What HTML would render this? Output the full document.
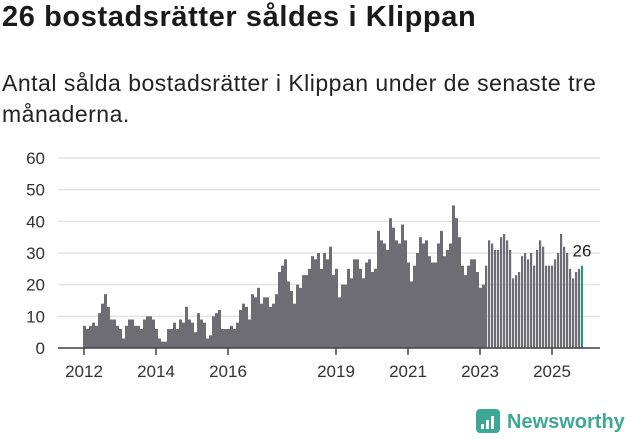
<!DOCTYPE html>
<html><head><meta charset="utf-8"><style>
body{margin:0;width:631px;height:439px;background:#fff;font-family:"Liberation Sans","DejaVu Sans",sans-serif;overflow:hidden;position:relative}
h1{position:absolute;left:2px;top:1px;margin:0;font-size:29px;font-weight:bold;color:#1a1a1a;letter-spacing:0.6px}
p{position:absolute;left:2px;top:68px;margin:0;font-size:23px;line-height:31px;color:#222;width:625px;letter-spacing:0.5px}
svg{position:absolute;left:0;top:0}
</style></head><body>
<h1>26 bostadsrätter såldes i Klippan</h1>
<p>Antal sålda bostadsrätter i Klippan under de senaste tre månaderna.</p>
<svg id="c" width="631" height="439"></svg>
<script>
const values=[7,6,7,8,7,11,14,17,13,9,9,7,6,3,7,9,9,7,7,6,9,10,10,9,6,3,2,2,6,6,8,6,9,8,13,9,8,5,11,9,8,3,4,10,11,12,6,6,6,7,6,8,12,14,13,9,
17,16,19,14,16,16,13,14,17,24,26,28,21,18,14,20,19,23,23,25,29,28,30,25,30,28,32,23,25,16,20,20,25,22,28,28,25,22,27,28,24,25,37,34,33,31,41,38,34,33,39,34,27,21,26,30,
35,33,34,29,27,27,33,37,29,31,33,45,41,35,26,23,26,28,28,24,19,20,26,34,33,31,31,35,36,34,31,22,23,24,29,30,28,30,26,31,34,32,26,26,26,28,30,36,32,30,25,22,24,25,26];
const yTicks=[0,10,20,30,40,50,60];
const xTickLabels=["2012","2014","2016","2019","2021","2023","2025"];
const xTickMonths=[0,24,48,84,108,132,156];
const NS="http://www.w3.org/2000/svg";
const svg=document.getElementById('c');
const y=v=>348-v*(190/60);
const x=i=>83+i*3;
function mk(t,a){const e=document.createElementNS(NS,t);for(const k in a)e.setAttribute(k,a[k]);svg.appendChild(e);return e;}
yTicks.forEach(v=>{
 const l=mk('line',{x1:58,x2:600,y1:y(v),y2:y(v),stroke:'#e3e3e3','stroke-width':1.5});
 
 
 const t=mk('text',{x:45,y:y(v)+6,'text-anchor':'end','font-size':17,fill:'#333'});
 t.textContent=v;
 
 
});
values.forEach((v,i)=>{
 const last=i===values.length-1;
 const r=mk('rect',{x:x(i),y:y(v),width:last?2:(i<134?3:2.2),height:348-y(v),fill:last?'#1a9c8c':'#6e6d73'});
 
 
});
const ax=mk('line',{x1:58,x2:600,y1:348,y2:348,stroke:'#444','stroke-width':1.5});


xTickMonths.forEach((m,j)=>{
 const tk=mk('line',{x1:x(m)+1,x2:x(m)+1,y1:348,y2:355,stroke:'#444','stroke-width':1.5});
 
 
 const t=mk('text',{x:x(m)+1,y:377,'text-anchor':'middle','font-size':17,fill:'#333'});
 t.textContent=xTickLabels[j];
 
 
});
const li=values.length-1;
const lab=mk('text',{x:x(li)+1,y:y(values[li])-9,'text-anchor':'middle','font-size':17,fill:'#222'});
lab.textContent=values[li];


const g=mk('g',{});


const b=document.createElementNS(NS,'rect');
b.setAttribute('x',476);b.setAttribute('y',409);b.setAttribute('width',24);b.setAttribute('height',24);b.setAttribute('rx',4);b.setAttribute('fill','#3fa796');
g.appendChild(b);
[[481,424,3,5],[486,420,3,9],[491,416,3,13]].forEach(a=>{const r=document.createElementNS(NS,'rect');r.setAttribute('x',a[0]);r.setAttribute('y',a[1]);r.setAttribute('width',a[2]);r.setAttribute('height',a[3]);r.setAttribute('fill','#fff');g.appendChild(r);});
const nt=document.createElementNS(NS,'text');
nt.setAttribute('x',507);nt.setAttribute('y',428);nt.setAttribute('font-size',20);nt.setAttribute('font-weight','bold');nt.setAttribute('fill','#3fa796');
nt.textContent='Newsworthy';
g.appendChild(nt);
</script>
</body></html>
